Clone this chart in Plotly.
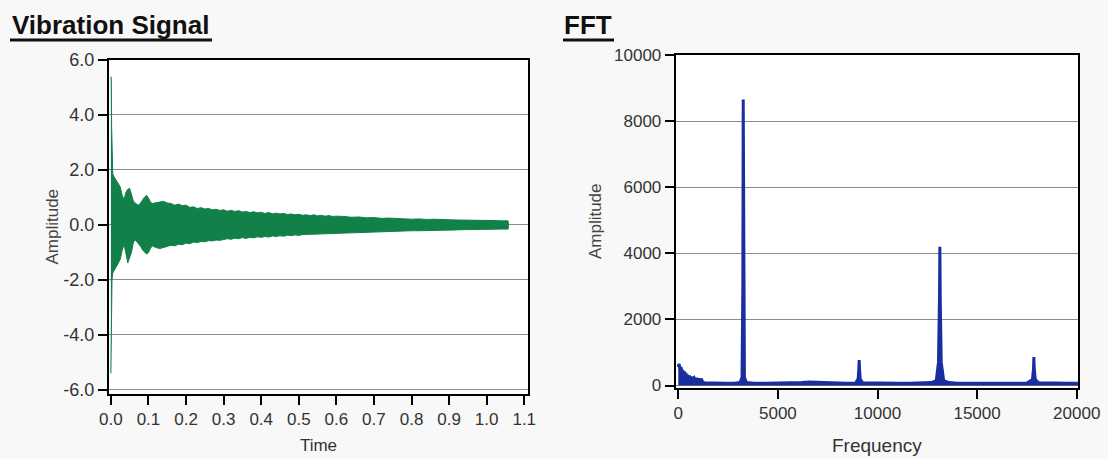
import plotly.graph_objects as go

# ---- Vibration signal: amplitude envelope of the decaying response ----
sig_time = [0.000, 0.001, 0.002, 0.003, 0.005, 0.010, 0.015, 0.020, 0.025, 0.030,
            0.035, 0.040, 0.045, 0.050, 0.055, 0.060, 0.065, 0.070, 0.075, 0.080,
            0.085, 0.090, 0.095, 0.100, 0.105,
            0.11, 0.12, 0.13, 0.14, 0.15, 0.16, 0.17, 0.18, 0.19, 0.20,
            0.21, 0.22, 0.23, 0.24, 0.25, 0.26, 0.27, 0.28, 0.29, 0.30,
            0.31, 0.32, 0.33, 0.34, 0.35, 0.36, 0.37, 0.38, 0.39, 0.40,
            0.41, 0.42, 0.43, 0.44, 0.45, 0.46, 0.47, 0.48, 0.49, 0.50,
            0.51, 0.52, 0.53, 0.54, 0.55, 0.56, 0.57, 0.58, 0.59, 0.60,
            0.62, 0.64, 0.66, 0.68, 0.70, 0.72, 0.74, 0.76, 0.78, 0.80,
            0.82, 0.84, 0.86, 0.88, 0.90, 0.92, 0.94, 0.96, 0.98, 1.00,
            1.02, 1.04, 1.057, 1.058]
sig_upper = [5.40, 5.30, 3.60, 2.00, 1.85, 1.72, 1.62, 1.50, 1.38, 1.08,
             0.92, 1.18, 1.30, 1.33, 1.12, 0.86, 0.80, 0.74, 0.72, 0.80,
             0.92, 1.02, 1.08, 0.98, 0.84,
             0.78, 0.80, 0.84, 0.86, 0.80, 0.78, 0.72, 0.76, 0.70, 0.72,
             0.64, 0.66, 0.60, 0.63, 0.58, 0.60, 0.55, 0.57, 0.53, 0.55,
             0.50, 0.53, 0.49, 0.52, 0.47, 0.49, 0.45, 0.48, 0.44, 0.46,
             0.42, 0.45, 0.41, 0.43, 0.40, 0.42, 0.38, 0.40, 0.37, 0.39,
             0.35, 0.37, 0.34, 0.37, 0.33, 0.35, 0.32, 0.34, 0.31, 0.32,
             0.31, 0.28, 0.29, 0.26, 0.27, 0.24, 0.25, 0.23, 0.23, 0.21,
             0.22, 0.20, 0.21, 0.19, 0.19, 0.18, 0.18, 0.17, 0.17, 0.16,
             0.16, 0.15, 0.15, 0.00]
sig_lower = [-5.40, -5.20, -3.40, -2.00, -1.75, -1.62, -1.52, -1.38, -1.25, -0.92,
             -0.70, -1.02, -1.38, -1.20, -0.98, -0.62, -0.56, -0.62, -0.70, -0.80,
             -0.92, -1.00, -1.06, -1.00, -0.86,
             -0.76, -0.82, -0.86, -0.80, -0.78, -0.74, -0.76, -0.70, -0.72, -0.66,
             -0.68, -0.62, -0.64, -0.60, -0.61, -0.57, -0.58, -0.55, -0.56, -0.53,
             -0.50, -0.52, -0.48, -0.50, -0.46, -0.49, -0.45, -0.47, -0.43, -0.45,
             -0.42, -0.44, -0.40, -0.42, -0.39, -0.41, -0.37, -0.39, -0.36, -0.38,
             -0.35, -0.36, -0.33, -0.35, -0.32, -0.34, -0.31, -0.33, -0.30, -0.31,
             -0.30, -0.29, -0.28, -0.27, -0.25, -0.25, -0.24, -0.23, -0.22, -0.21,
             -0.21, -0.20, -0.20, -0.19, -0.19, -0.18, -0.17, -0.17, -0.16, -0.16,
             -0.15, -0.15, -0.15, 0.00]

time_ticks = [0.0, 0.1, 0.2, 0.3, 0.4, 0.5, 0.6, 0.7, 0.8, 0.9, 1.0, 1.1]
time_tick_text = ["0.0", "0.1", "0.2", "0.3", "0.4", "0.5", "0.6", "0.7", "0.8", "0.9", "1.0", "1.1"]
amp_ticks = [-6, -4, -2, 0, 2, 4, 6]
amp_tick_text = ["-6.0", "-4.0", "-2.0", "0.0", "2.0", "4.0", "6.0"]

# ---- FFT magnitude spectrum ----
fft_freq = [0, 30, 60, 100, 140, 180, 220, 260, 300, 340, 380, 420, 460, 500,
            560, 620, 680, 740, 800, 860, 920, 980, 1040, 1100, 1160, 1220, 1300,
            1600, 2000, 2400, 2800, 3100, 3200, 3240, 3260, 3280, 3320, 3420,
            3800, 4400, 5000, 5600, 6200, 6600, 7000, 7400, 7800, 8400, 8900,
            9030, 9060, 9080, 9100, 9130, 9250, 9800, 10400, 11000, 11600, 12200,
            12700, 12950, 13060, 13110, 13130, 13150, 13200, 13320, 13600, 14000,
            14600, 15200, 15800, 16400, 17000, 17500, 17780, 17830, 17850, 17870,
            17920, 18100, 18600, 19200, 19600, 20060]
fft_amp = [560, 650, 600, 480, 560, 420, 470, 350, 420, 300, 380, 260, 320, 240,
           290, 200, 260, 180, 230, 160, 220, 150, 210, 140, 200, 110, 80,
           70, 70, 65, 70, 90, 250, 3000, 8650, 3000, 250, 90,
           70, 65, 70, 75, 90, 110, 100, 80, 70, 65, 75,
           200, 500, 770, 500, 200, 80, 70, 65, 70, 70, 70,
           90, 150, 700, 2600, 4200, 2600, 700, 150, 90, 70,
           65, 70, 65, 70, 65, 75, 180, 500, 860, 500,
           180, 80, 70, 65, 70, 70]

freq_ticks = [0, 5000, 10000, 15000, 20000]
freq_tick_text = ["0", "5000", "10000", "15000", "20000"]
fft_amp_ticks = [0, 2000, 4000, 6000, 8000, 10000]
fft_amp_tick_text = ["0", "2000", "4000", "6000", "8000", "10000"]

GREEN = "#128049"
BLUE = "#1a2ea0"
FONT = "Liberation Sans, Arial, sans-serif"
TICK_COLOR = "#333333"

W, H = 1108, 459


def px_x(p):
    return p / W


def px_y(p):
    return (H - p) / H


fig = go.Figure()

# filled band between the upper and lower envelope
fig.add_trace(go.Scatter(
    x=sig_time + sig_time[::-1],
    y=sig_upper + sig_lower[::-1],
    fill="toself", fillcolor=GREEN,
    line=dict(color=GREEN, width=1),
    mode="lines", hoverinfo="skip",
    xaxis="x", yaxis="y", showlegend=False,
))

fig.add_trace(go.Scatter(
    x=fft_freq, y=fft_amp,
    mode="lines", fill="tozeroy", fillcolor=BLUE,
    line=dict(color=BLUE, width=3),
    xaxis="x2", yaxis="y2", showlegend=False,
))

axis_common = dict(
    showline=True, linecolor="black", linewidth=2, mirror=True,
    ticks="outside", ticklen=9, tickwidth=2, tickcolor="black",
    zeroline=False, automargin=False,
)

fig.update_layout(
    width=W, height=H,
    margin=dict(l=0, r=0, t=0, b=0),
    paper_bgcolor="#f8f8f8",
    plot_bgcolor="white",
    xaxis=dict(
        domain=[px_x(109), px_x(528)], anchor="y",
        range=[-0.005, 1.11],
        tickmode="array", tickvals=time_ticks, ticktext=time_tick_text,
        tickfont=dict(family=FONT, size=17, color=TICK_COLOR),
        showgrid=False,
        title=dict(text="Time", font=dict(family=FONT, size=17, color=TICK_COLOR), standoff=11),
        **axis_common,
    ),
    yaxis=dict(
        domain=[px_y(393.5), px_y(60)], anchor="x",
        range=[-6.13, 6.0],
        tickmode="array", tickvals=amp_ticks, ticktext=amp_tick_text,
        tickfont=dict(family=FONT, size=18, color=TICK_COLOR),
        showgrid=True, gridcolor="#8c8c8c", gridwidth=1,
        title=dict(text="Amplitude", font=dict(family=FONT, size=17, color="#444444"), standoff=0),
        **axis_common,
    ),
    xaxis2=dict(
        domain=[px_x(675.7), px_x(1078)], anchor="y2",
        range=[-130, 20065],
        tickmode="array", tickvals=freq_ticks, ticktext=freq_tick_text,
        tickfont=dict(family=FONT, size=17, color=TICK_COLOR),
        showgrid=False,
        title=dict(text="Frequency", font=dict(family=FONT, size=19, color=TICK_COLOR), standoff=17),
        **axis_common,
    ),
    yaxis2=dict(
        domain=[px_y(387.5), px_y(55)], anchor="x2",
        range=[-60, 10000],
        tickmode="array", tickvals=fft_amp_ticks, ticktext=fft_amp_tick_text,
        tickfont=dict(family=FONT, size=17, color=TICK_COLOR),
        showgrid=True, gridcolor="#8c8c8c", gridwidth=1,
        title=dict(text="Amplitude", font=dict(family=FONT, size=17, color="#444444"), standoff=8),
        **axis_common,
    ),
    annotations=[
        dict(text="<b>Vibration Signal</b>", x=px_x(10), y=px_y(25), xref="paper", yref="paper",
             xanchor="left", yanchor="middle", align="left", showarrow=False,
             font=dict(family=FONT, size=26, color="#111111")),
        dict(text="<b>FFT</b>", x=px_x(562), y=px_y(25), xref="paper", yref="paper",
             xanchor="left", yanchor="middle", align="left", showarrow=False,
             font=dict(family=FONT, size=26, color="#111111")),
    ],
    shapes=[
        dict(type="line", xref="paper", yref="paper", x0=px_x(10), x1=px_x(212),
             y0=px_y(40), y1=px_y(40), line=dict(color="#111111", width=3)),
        dict(type="line", xref="paper", yref="paper", x0=px_x(563), x1=px_x(614),
             y0=px_y(40), y1=px_y(40), line=dict(color="#111111", width=3)),
    ],
)

fig.write_html("out.html")
